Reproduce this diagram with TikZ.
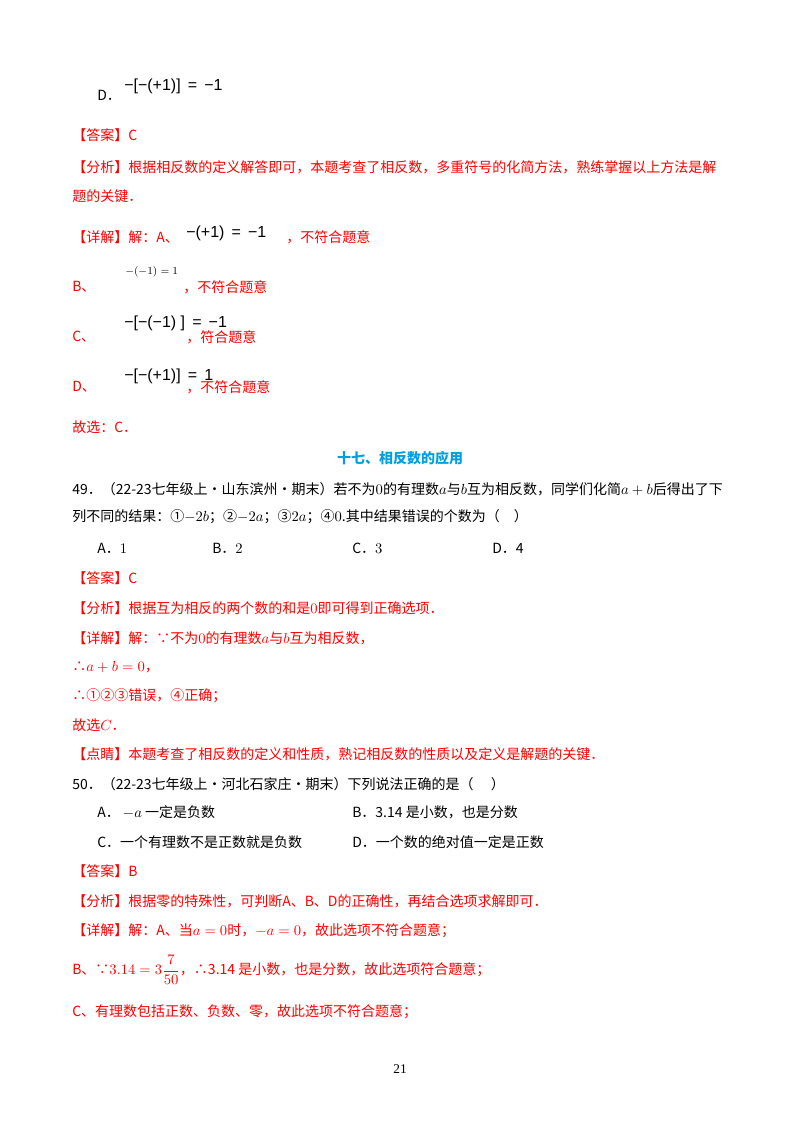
\documentclass[tikz,border=0pt]{standalone}
\usepackage{amsmath}
\usepackage{fontspec}
\newfontfamily\cj{Noto Sans CJK SC}
\newfontfamily\ar{Liberation Sans}
\setmainfont{Liberation Serif}
\definecolor{rd}{HTML}{FF0000}
\definecolor{bl}{HTML}{00A0E0}
\begin{document}
\begin{tikzpicture}[x=0.75pt,y=-0.75pt,
  t/.style={anchor=west,inner sep=0pt,font=\cj\fontsize{10.5}{12}\selectfont},
  r/.style={t,text=rd},
  fm/.style={anchor=west,inner sep=0pt,font=\ar\fontsize{12}{14}\selectfont}]
\useasboundingbox[fill=white] (0,0) rectangle (800,1132);
\node[t] (d1) at (97,95) {D．};
\node[fm] (d1m) at (124,86) {−[−(+1)] \,=\, −1};
\node[r] (a1) at (72,135) {【答案】C};
\node[r] (f1) at (72,167) {【分析】根据相反数的定义解答即可，本题考查了相反数，多重符号的化简方法，熟练掌握以上方法是解};
\node[r] (f1b) at (72,196) {题的关键．};
\node[r] (x1) at (72,237) {【详解】解：A、};
\node[fm] (x1m) at (186,233) {−(+1) \,=\, −1};
\node[r] (x1t) at (286,237) {，不符合题意};
\node[r] (xb) at (72,287) {B、};
\node[anchor=west,inner sep=0pt,font=\fontsize{8}{9}\selectfont] (xbm) at (125,272) {$-(-1)=1$};
\node[r] (xbt) at (183,287) {，不符合题意};
\node[r] (xc) at (72,337) {C、};
\node[fm] (xcm) at (124,323) {−[−(−1) ] \,=\, −1};
\node[r] (xct) at (186,337) {，符合题意};
\node[r] (xd) at (72,387) {D、};
\node[fm] (xdm) at (124,376) {−[−(+1)] \,=\, 1};
\node[r] (xdt) at (186,387) {，不符合题意};
\node[r] (g1) at (72,427) {故选：C．};
\node[t,anchor=center,text=bl,font=\cj\bfseries\fontsize{10.5}{12}\selectfont] (h) at (400,458) {十七、相反数的应用};
\node[t] (q49) at (72,489) {49．（22-23七年级上·山东滨州·期末）若不为$0$的有理数$a$与$b$互为相反数，同学们化简$a+b$后得出了下};
\node[t] (q49b) at (72,517) {列不同的结果：①$-2b$；②$-2a$；③$2a$；④$0$.其中结果错误的个数为（\quad）};
\node[t] (o1) at (97,548) {A．$1$};
\node[t] (o2) at (212,548) {B．$2$};
\node[t] (o3) at (352,548) {C．$3$};
\node[t] (o4) at (492,548) {D．4};
\node[r] (a2) at (72,578) {【答案】C};
\node[r] (f2) at (72,608) {【分析】根据互为相反的两个数的和是$0$即可得到正确选项．};
\node[r] (x2) at (72,638) {【详解】解：∵不为$0$的有理数$a$与$b$互为相反数，};
\node[r] (x2b) at (72,667) {∴$a+b=0$，};
\node[r] (x2c) at (72,696) {∴①②③错误，④正确；};
\node[r] (g2) at (72,725) {故选$C$．};
\node[r] (p2) at (72,754) {【点睛】本题考查了相反数的定义和性质，熟记相反数的性质以及定义是解题的关键．};
\node[t] (q50) at (72,784) {50．（22-23七年级上·河北石家庄·期末）下列说法正确的是（\quad\ ）};
\node[t] (p1) at (97,812) {A．\ $-a$\ 一定是负数};
\node[t] (p2b) at (352,812) {B．3.14 是小数，也是分数};
\node[t] (p3) at (97,842) {C．一个有理数不是正数就是负数};
\node[t] (p4) at (352,842) {D．一个数的绝对值一定是正数};
\node[r] (a3) at (72,871) {【答案】B};
\node[r] (f3) at (72,901) {【分析】根据零的特殊性，可判断A、B、D的正确性，再结合选项求解即可．};
\node[r] (x3) at (72,931) {【详解】解：A、当$a=0$时，$-a=0$，故此选项不符合题意；};
\node[r] (x3b) at (72,970) {B、∵$3.14=3\dfrac{7}{50}$，∴3.14 是小数，也是分数，故此选项符合题意；};
\node[r] (x3c) at (72,1012) {C、有理数包括正数、负数、零，故此选项不符合题意；};
\node[anchor=center,font=\fontsize{10}{12}\selectfont] (pg) at (400,1069) {21};
\end{tikzpicture}
\end{document}
